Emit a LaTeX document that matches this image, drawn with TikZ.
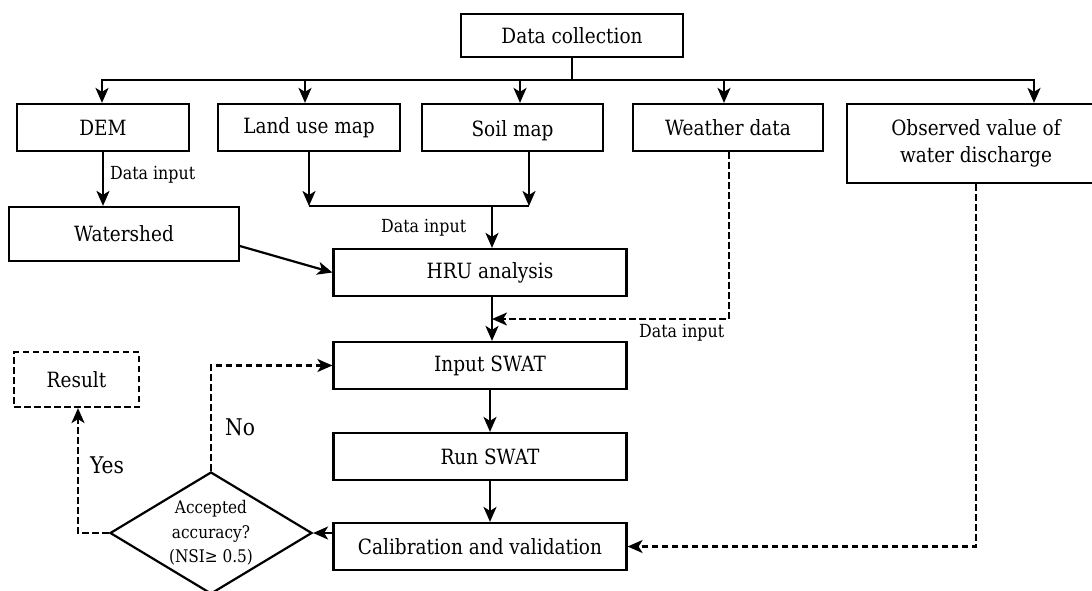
\documentclass[tikz,border=0pt]{standalone}
\usepackage{fontspec}
\setmainfont{DejaVu Serif}[FakeStretch=0.88]
\usetikzlibrary{arrows.meta,shapes.geometric}
\begin{document}
\begin{tikzpicture}[x=1pt,y=-1pt,
  box/.style={draw, line width=2.2pt, rectangle, inner sep=0pt, align=center, font=\fontsize{21}{26.5}\selectfont},
  lab/.style={font=\fontsize{18}{20}\selectfont, inner sep=0pt},
  big/.style={font=\fontsize{23}{26}\selectfont, inner sep=0pt},
  arr/.style={line width=2.2pt, -{Stealth[length=15pt,width=13pt,inset=4pt]}},
  ln/.style={line width=2.2pt},
  dsh/.style={dash pattern=on 6.5pt off 3.5pt},
]
\useasboundingbox (0,0) rectangle (1092,590);
\clip (0,0) rectangle (1092,590);

\node[box, minimum width=222pt, minimum height=43pt] (dc) at (572,35.5) {Data collection};
\node[box, minimum width=172pt, minimum height=47pt] (dem) at (103,127.5) {DEM};
\node[box, minimum width=181.5pt, minimum height=47pt] (lu) at (309,127.5) {Land use map};
\node[box, minimum width=181pt, minimum height=47pt] (soil) at (512.5,127.5) {\raisebox{-3pt}[\height][\depth]{Soil map}};
\node[box, minimum width=190pt, minimum height=47pt] (wd) at (728,127.5) {Weather data};
\node[box, minimum width=257.5pt, minimum height=79pt] (obs) at (976,143.5) {Observed value of\\water discharge};
\node[box, minimum width=229.5pt, minimum height=54pt] (ws) at (124,234) {Watershed};
\node[box, minimum width=293pt, minimum height=47pt] (hru) at (480,272.5) {\hspace*{20pt}HRU analysis};
\node[box, minimum width=293pt, minimum height=47pt] (in) at (480,365.5) {\hspace*{20pt}Input SWAT};
\node[box, minimum width=293pt, minimum height=47pt] (run) at (480,456.5) {\hspace*{20pt}Run SWAT};
\node[box, minimum width=293pt, minimum height=47pt] (cal) at (480,546.5) {Calibration and validation};
\node[box, dsh, minimum width=125pt, minimum height=55pt] (res) at (76.5,379.5) {Result};
\node[draw, diamond, shape aspect=1.656, line width=2.2pt, minimum width=202pt, minimum height=122pt, inner sep=0pt, align=center, font=\fontsize{17.4}{24.5}\selectfont] (acc) at (211,533) {Accepted\\accuracy?\\(NSI≥ 0.5)};

% branch from data collection
\coordinate (br) at (572,80);
\draw[ln] (dc.south) -- (br);
\draw[arr] (br) -| ([xshift=-1pt]dem.north);
\draw[arr] (br) -| ([xshift=-4pt]lu.north);
\draw[arr] (br) -| ([xshift=7.5pt]soil.north);
\draw[arr] (br) -| ([xshift=-4pt]wd.north);
\draw[arr] (br) -| ([xshift=58pt]obs.north);

% DEM -> Watershed
\draw[arr] (dem.south) -- (dem.south |- ws.north);
\node[lab, anchor=west] (l1) at (110,175) {Data input};

% land use + soil merge
\coordinate (mj) at (492,206);
\draw[arr] (lu.south) -- (lu.south |- mj);
\draw[arr] ([xshift=16.5pt]soil.south) -- ([xshift=16.5pt]soil.south |- mj);
\draw[ln] (lu.south |- mj) -- ([xshift=16.5pt]soil.south |- mj);
\draw[arr] (mj) -- (mj |- hru.north);
\node[lab, anchor=west] (l2) at (381,228) {Data input};

% watershed -> HRU
\draw[arr] ([yshift=-12pt]ws.east) -- (hru.west);

% weather -> between HRU and Input
\coordinate (wc) at (729,319);
\draw[arr, dsh] ([xshift=1pt]wd.south) |- ([xshift=12pt]hru.south |- wc);
\node[lab, anchor=west] (l3) at (639,333) {Data input};

% main chain
\draw[arr] ([xshift=12pt]hru.south) -- ([xshift=12pt]in.north);
\draw[arr] ([xshift=10pt]in.south) -- ([xshift=10pt]run.north);
\draw[arr] ([xshift=10pt]run.south) -- ([xshift=10pt]cal.north);

% observed -> calibration
\draw[arr, dsh] (obs.south) |- (cal.east);

% calibration -> decision
\draw[arr] ([yshift=13.5pt]cal.west) -- (acc.east);

% decision outcomes
\draw[arr, dsh] (acc.north) |- (in.west);
\draw[arr, dsh] (acc.west) -| ([xshift=1.5pt]res.south);
\node[big] (no) at (240,427) {No};
\node[big] (yes) at (107,465) {Yes};
\end{tikzpicture}
\end{document}
